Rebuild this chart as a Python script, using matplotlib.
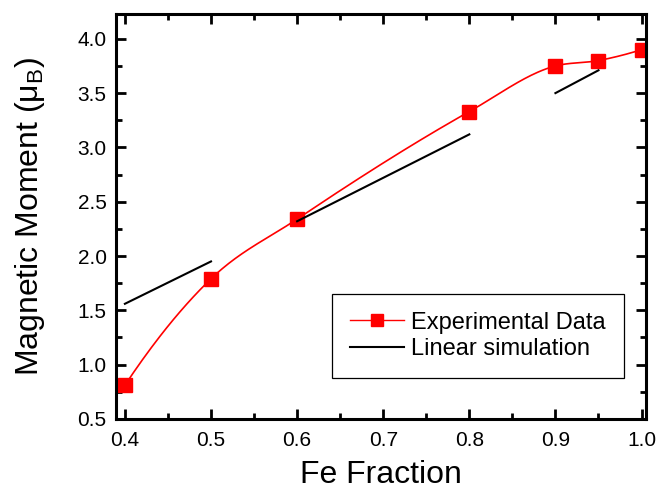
import numpy as np
import matplotlib
matplotlib.use('Agg')
import matplotlib.pyplot as plt
from matplotlib.ticker import MultipleLocator

plt.rcParams['font.family'] = ['Liberation Sans', 'DejaVu Sans']
plt.rcParams['mathtext.fontset'] = 'custom'
plt.rcParams['mathtext.rm'] = 'Liberation Sans'

# experimental data
fe_frac = [0.4, 0.5, 0.6, 0.8, 0.9, 0.95, 1.0]
moment = [0.81, 1.79, 2.34, 3.33, 3.75, 3.80, 3.90]

# linear simulation segments
lin_x = [[0.4, 0.5], [0.6, 0.8], [0.9, 0.95]]
lin_y = [[1.56, 1.95], [2.32, 3.12], [3.50, 3.71]]


def smooth_line(x, y, n=40):
    # cubic hermite through the points, slopes from 3-point parabola
    x = np.asarray(x, float)
    y = np.asarray(y, float)
    h = np.diff(x)
    d = np.diff(y) / h
    m = np.zeros(len(x))
    for i in range(1, len(x) - 1):
        m[i] = (h[i] * d[i - 1] + h[i - 1] * d[i]) / (h[i - 1] + h[i])
    m[0] = 2 * d[0] - m[1]
    m[-1] = 2 * d[-1] - m[-2]
    xs, ys = [], []
    for i in range(len(x) - 1):
        t = np.linspace(0, 1, n)
        h00 = 2 * t**3 - 3 * t**2 + 1
        h10 = t**3 - 2 * t**2 + t
        h01 = -2 * t**3 + 3 * t**2
        h11 = t**3 - t**2
        xs.append(x[i] + t * h[i])
        ys.append(h00 * y[i] + h10 * h[i] * m[i] + h01 * y[i + 1] + h11 * h[i] * m[i + 1])
    return np.concatenate(xs), np.concatenate(ys)


fig = plt.figure(figsize=(6.57, 4.94), dpi=100)
ax = fig.add_axes([0.177, 0.152, 0.806, 0.82])

sx, sy = smooth_line(fe_frac, moment)
ax.plot(sx, sy, color='red', lw=1.2)
ax.plot(fe_frac, moment, 's', color='red', ms=10)
# legend entry (marker + line)
ax.plot([], [], 's-', color='red', ms=9, lw=1.0, label='Experimental Data')

for i in range(len(lin_x)):
    ax.plot(lin_x[i], lin_y[i], color='black', lw=1.5,
            label='Linear simulation' if i == 0 else None)

ax.set_xlim(0.39, 1.005)
ax.set_ylim(0.5, 4.23)
ax.xaxis.set_major_locator(MultipleLocator(0.1))
ax.xaxis.set_minor_locator(MultipleLocator(0.05))
ax.yaxis.set_major_locator(MultipleLocator(0.5))
ax.yaxis.set_minor_locator(MultipleLocator(0.25))
ax.tick_params(which='both', direction='in', top=True, right=True, width=2, labelsize=15)
ax.tick_params(which='major', length=7)
ax.tick_params(which='minor', length=4)
ax.tick_params(axis='x', pad=9)
ax.tick_params(axis='y', pad=7)
for s in ax.spines.values():
    s.set_linewidth(2.2)

ax.set_xlabel('Fe Fraction', fontsize=23)
ax.set_ylabel('Magnetic Moment (μ$_\\mathrm{B}$)', fontsize=23)
ax.xaxis.set_label_coords(0.5, -0.101)
ax.yaxis.set_label_coords(-0.13, 0.5)

leg = ax.legend(loc='lower right', bbox_to_anchor=(0.958, 0.101), borderaxespad=0,
                fontsize=17, fancybox=False, edgecolor='black', handlelength=2.3,
                handletextpad=0.3, labelspacing=0.2, borderpad=0.75, framealpha=1)
leg.get_frame().set_linewidth(0.9)

fig.savefig('out.png', dpi=100)
